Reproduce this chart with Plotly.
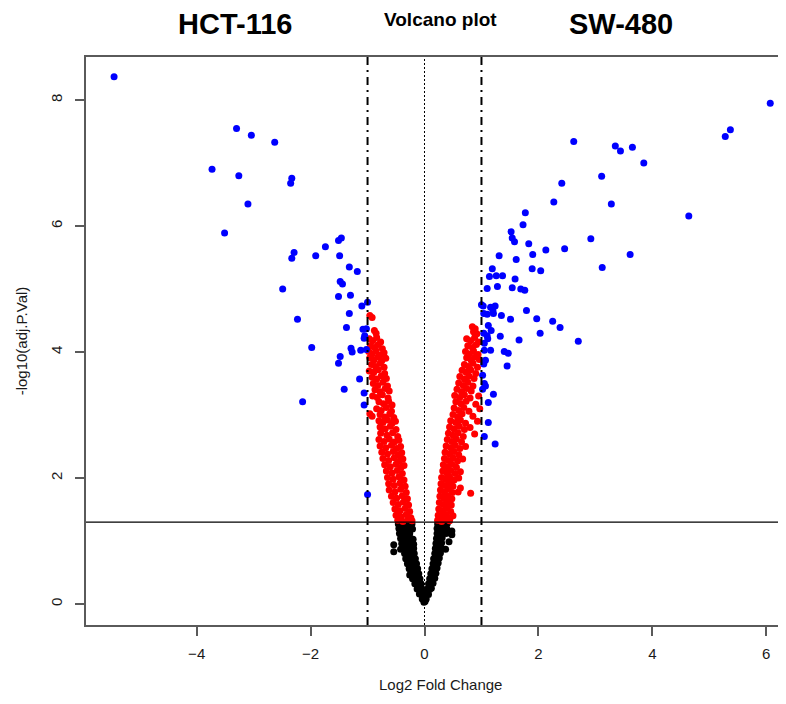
import plotly.graph_objects as go

# ---------------- data (log2FC, -log10 adj.P) ----------------
blue_left = [
    (-5.45, 8.37), (-3.30, 7.55), (-3.04, 7.44), (-2.63, 7.33), (-3.73, 6.90), (-3.26, 6.80),
    (-2.33, 6.76), (-2.35, 6.68), (-3.10, 6.35), (-3.51, 5.89), (-1.74, 5.67), (-1.51, 5.77),
    (-1.46, 5.81), (-2.29, 5.58), (-2.33, 5.49), (-1.91, 5.53), (-1.49, 5.53), (-1.32, 5.35),
    (-1.18, 5.28), (-1.48, 5.12), (-1.44, 5.08), (-2.49, 5.00), (-1.51, 4.88), (-1.30, 4.90),
    (-1.00, 4.79), (-1.10, 4.73), (-1.32, 4.61), (-2.23, 4.52), (-1.37, 4.39), (-1.08, 4.36),
    (-1.02, 4.37), (-1.05, 4.26), (-1.06, 4.22), (-1.98, 4.07), (-1.29, 4.06), (-1.27, 4.00),
    (-1.12, 4.03), (-1.02, 4.04), (-1.48, 3.93), (-1.51, 3.82), (-1.14, 3.57), (-1.41, 3.41),
    (-1.06, 3.35), (-2.14, 3.21), (-1.06, 3.16), (-1.00, 1.74),
]

blue_right = [
    (6.07, 7.95), (5.37, 7.53), (5.28, 7.42), (2.62, 7.34), (3.35, 7.27), (3.44, 7.19),
    (3.65, 7.25), (3.85, 7.00), (3.11, 6.79), (2.41, 6.68), (2.27, 6.38), (3.28, 6.35),
    (4.64, 6.16), (1.77, 6.21), (1.73, 6.02), (1.52, 5.91), (1.54, 5.81), (1.58, 5.75),
    (1.83, 5.72), (2.92, 5.80), (2.46, 5.64), (2.13, 5.62), (1.31, 5.53), (1.90, 5.55),
    (3.61, 5.55), (1.61, 5.47), (1.19, 5.32), (1.89, 5.32), (2.04, 5.29), (3.12, 5.34),
    (1.14, 5.20), (1.26, 5.21), (1.37, 5.21), (1.59, 5.16), (1.10, 5.01), (1.28, 5.04),
    (1.54, 5.02), (1.69, 5.00), (1.76, 4.98), (1.03, 4.73), (1.00, 4.75), (1.16, 4.71),
    (1.24, 4.73), (1.20, 4.66), (1.21, 4.61), (1.04, 4.61), (1.10, 4.60), (1.35, 4.58),
    (1.51, 4.52), (1.79, 4.66), (1.97, 4.53), (2.25, 4.49), (2.38, 4.39), (2.03, 4.30),
    (2.70, 4.17), (1.12, 4.42), (1.17, 4.34), (1.04, 4.30), (1.10, 4.26), (1.11, 4.21),
    (1.05, 4.14), (1.33, 4.25), (1.66, 4.19), (1.05, 4.03), (1.16, 4.03), (1.40, 4.01),
    (1.47, 3.98), (1.07, 3.87), (1.04, 3.81), (1.45, 3.78), (1.02, 3.63), (1.05, 3.50),
    (1.07, 3.46), (1.02, 3.41), (1.21, 3.33), (1.12, 3.20), (1.12, 2.88), (1.05, 2.66),
    (1.24, 2.54),
]

red_left = [
    (-0.96, 4.58), (-0.92, 4.55), (-0.88, 4.34), (-0.85, 4.30),
    (-0.97, 4.21), (-0.91, 4.18), (-0.84, 4.23), (-0.77, 4.16),
    (-0.95, 4.10), (-0.88, 4.07), (-0.81, 4.12), (-0.74, 4.05),
    (-0.98, 4.01), (-0.92, 3.97), (-0.85, 4.02), (-0.78, 3.95), (-0.71, 3.99),
    (-0.96, 3.91), (-0.89, 3.87), (-0.82, 3.92), (-0.75, 3.86), (-0.68, 3.90),
    (-0.93, 3.80), (-0.86, 3.77), (-0.78, 3.82), (-0.71, 3.76),
    (-0.97, 3.70), (-0.89, 3.68), (-0.81, 3.72), (-0.70, 3.66),
    (-0.92, 3.60), (-0.84, 3.57), (-0.76, 3.62), (-0.67, 3.58),
    (-0.90, 3.50), (-0.82, 3.47), (-0.73, 3.52), (-0.65, 3.46),
    (-0.87, 3.40), (-0.78, 3.37), (-0.69, 3.42), (-0.62, 3.38),
    (-0.91, 3.30), (-0.83, 3.28), (-0.74, 3.32), (-0.64, 3.27),
    (-0.80, 3.21), (-0.72, 3.18), (-0.63, 3.22), (-0.57, 3.16),
    (-0.84, 3.10), (-0.76, 3.07), (-0.67, 3.12), (-0.58, 3.06),
    (-0.96, 3.02), (-0.92, 2.98), (-0.78, 3.01), (-0.70, 2.97), (-0.61, 3.02), (-0.54, 2.96),
    (-0.80, 2.91), (-0.73, 2.88), (-0.65, 2.92), (-0.57, 2.87), (-0.51, 2.90),
    (-0.78, 2.81), (-0.69, 2.78), (-0.60, 2.82), (-0.50, 2.77),
    (-0.77, 2.71), (-0.66, 2.68), (-0.56, 2.72), (-0.47, 2.66),
    (-0.80, 2.61), (-0.71, 2.58), (-0.62, 2.62), (-0.53, 2.57), (-0.45, 2.60),
    (-0.78, 2.51), (-0.68, 2.48), (-0.58, 2.52), (-0.49, 2.47), (-0.42, 2.50),
    (-0.75, 2.41), (-0.65, 2.38), (-0.55, 2.42), (-0.46, 2.37), (-0.40, 2.40),
    (-0.73, 2.31), (-0.63, 2.28), (-0.53, 2.32), (-0.44, 2.27), (-0.38, 2.30),
    (-0.70, 2.21), (-0.60, 2.18), (-0.50, 2.22), (-0.41, 2.17), (-0.36, 2.20),
    (-0.67, 2.11), (-0.57, 2.08), (-0.48, 2.12), (-0.39, 2.07),
    (-0.65, 2.01), (-0.55, 1.98), (-0.45, 2.02), (-0.36, 1.97),
    (-0.63, 1.91), (-0.53, 1.88), (-0.43, 1.92), (-0.34, 1.87),
    (-0.62, 1.81), (-0.52, 1.78), (-0.42, 1.82), (-0.32, 1.77),
    (-0.58, 1.71), (-0.49, 1.68), (-0.39, 1.72), (-0.30, 1.67),
    (-0.55, 1.61), (-0.46, 1.58), (-0.37, 1.62), (-0.28, 1.57),
    (-0.52, 1.51), (-0.43, 1.48), (-0.34, 1.52), (-0.26, 1.47),
    (-0.50, 1.41), (-0.41, 1.38), (-0.32, 1.42), (-0.24, 1.37),
    (-0.47, 1.33), (-0.38, 1.31), (-0.29, 1.34), (-0.22, 1.32),
]

red_right = [
    (0.84, 4.40), (0.89, 4.37), (0.86, 4.32), (0.92, 4.29),
    (0.74, 4.21), (0.81, 4.18), (0.88, 4.23), (0.95, 4.16),
    (0.76, 4.10), (0.84, 4.07), (0.91, 4.12),
    (0.72, 4.01), (0.79, 3.97), (0.86, 4.02), (0.94, 3.96),
    (0.74, 3.91), (0.82, 3.87), (0.89, 3.92), (0.96, 3.88),
    (0.70, 3.80), (0.77, 3.77), (0.85, 3.82), (0.93, 3.76),
    (0.66, 3.71), (0.73, 3.68), (0.81, 3.72), (0.90, 3.66),
    (0.62, 3.61), (0.70, 3.57), (0.78, 3.62), (0.87, 3.58),
    (0.60, 3.51), (0.68, 3.47), (0.76, 3.52), (0.85, 3.46),
    (0.57, 3.41), (0.65, 3.37), (0.74, 3.42), (0.82, 3.38),
    (0.53, 3.31), (0.62, 3.28), (0.70, 3.32), (0.80, 3.27), (0.95, 3.30),
    (0.55, 3.21), (0.64, 3.18), (0.73, 3.22), (0.90, 3.17),
    (0.52, 3.11), (0.60, 3.07), (0.69, 3.12), (0.78, 3.06), (0.97, 3.10),
    (0.50, 3.01), (0.58, 2.97), (0.66, 3.02), (0.85, 2.98),
    (0.46, 2.91), (0.55, 2.88), (0.63, 2.92), (0.72, 2.87), (0.93, 2.90),
    (0.44, 2.81), (0.52, 2.78), (0.61, 2.82), (0.70, 2.77), (0.80, 2.80),
    (0.42, 2.71), (0.50, 2.68), (0.59, 2.72), (0.68, 2.66), (0.88, 2.70),
    (0.40, 2.61), (0.48, 2.58), (0.56, 2.62), (0.65, 2.57),
    (0.38, 2.51), (0.46, 2.48), (0.54, 2.52), (0.62, 2.47), (0.72, 2.50),
    (0.36, 2.41), (0.44, 2.38), (0.52, 2.42), (0.60, 2.37),
    (0.35, 2.31), (0.42, 2.28), (0.50, 2.32), (0.58, 2.27), (0.67, 2.30),
    (0.33, 2.21), (0.40, 2.18), (0.48, 2.22), (0.56, 2.17),
    (0.32, 2.11), (0.39, 2.08), (0.46, 2.12), (0.54, 2.07), (0.63, 2.10),
    (0.30, 2.01), (0.37, 1.98), (0.44, 2.02), (0.52, 1.97), (0.60, 2.00),
    (0.29, 1.91), (0.36, 1.88), (0.43, 1.92), (0.50, 1.87),
    (0.28, 1.81), (0.35, 1.78), (0.42, 1.82), (0.49, 1.77), (0.59, 1.78), (0.63, 1.84),
    (0.27, 1.71), (0.34, 1.68), (0.41, 1.72), (0.48, 1.67), (0.81, 1.76),
    (0.26, 1.61), (0.33, 1.58), (0.40, 1.62), (0.47, 1.57),
    (0.25, 1.51), (0.32, 1.48), (0.39, 1.52), (0.46, 1.47),
    (0.24, 1.41), (0.31, 1.38), (0.38, 1.42), (0.45, 1.37), (0.50, 1.40),
    (0.23, 1.33), (0.30, 1.31), (0.37, 1.34), (0.44, 1.32),
]

black_ns = [
    (-0.46, 1.27), (-0.40, 1.28), (-0.34, 1.26), (-0.28, 1.28), (-0.22, 1.27),
    (0.23, 1.27), (0.29, 1.28), (0.35, 1.26), (0.40, 1.28),
    (-0.45, 1.20), (-0.39, 1.19), (-0.33, 1.21), (-0.27, 1.20), (-0.21, 1.19),
    (0.22, 1.20), (0.28, 1.19), (0.34, 1.21), (0.39, 1.20),
    (-0.44, 1.12), (-0.38, 1.11), (-0.32, 1.13), (-0.26, 1.12),
    (0.22, 1.12), (0.27, 1.11), (0.33, 1.13), (0.38, 1.12),
    (-0.42, 1.04), (-0.36, 1.03), (-0.30, 1.05), (-0.24, 1.04), (-0.20, 1.03),
    (0.21, 1.04), (0.26, 1.03), (0.31, 1.05),
    (-0.40, 0.96), (-0.34, 0.95), (-0.28, 0.97), (-0.22, 0.96), (-0.19, 0.95),
    (0.20, 0.96), (0.25, 0.95), (0.30, 0.97),
    (-0.37, 0.88), (-0.31, 0.87), (-0.25, 0.89), (-0.19, 0.88),
    (0.19, 0.88), (0.24, 0.87), (0.29, 0.89),
    (-0.35, 0.80), (-0.29, 0.79), (-0.23, 0.81), (-0.18, 0.80),
    (0.18, 0.80), (0.23, 0.79), (0.28, 0.81),
    (-0.33, 0.72), (-0.27, 0.71), (-0.21, 0.73), (-0.16, 0.72),
    (0.16, 0.72), (0.21, 0.71), (0.26, 0.73),
    (-0.30, 0.64), (-0.25, 0.63), (-0.19, 0.65), (-0.14, 0.64),
    (0.15, 0.64), (0.20, 0.63), (0.24, 0.65),
    (-0.27, 0.56), (-0.22, 0.55), (-0.17, 0.57), (-0.12, 0.56),
    (0.13, 0.56), (0.18, 0.55), (0.22, 0.57),
    (-0.24, 0.48), (-0.19, 0.47), (-0.14, 0.49), (-0.10, 0.48),
    (0.11, 0.48), (0.16, 0.47), (0.20, 0.49),
    (-0.21, 0.40), (-0.16, 0.39), (-0.11, 0.41), (-0.08, 0.40),
    (0.09, 0.40), (0.14, 0.39), (0.18, 0.41),
    (-0.17, 0.32), (-0.13, 0.31), (-0.09, 0.33), (-0.06, 0.32),
    (0.07, 0.32), (0.11, 0.31), (0.15, 0.33),
    (-0.13, 0.24), (-0.09, 0.23), (-0.05, 0.25),
    (0.05, 0.24), (0.09, 0.23), (0.12, 0.25),
    (-0.09, 0.16), (-0.05, 0.15), (-0.02, 0.17), (0.03, 0.16), (0.07, 0.15),
    (-0.04, 0.08), (0.00, 0.09), (0.03, 0.08), (-0.01, 0.03), (0.01, 0.04),
    (-0.54, 0.94), (-0.54, 0.83), (-0.39, 0.95), (-0.42, 0.87), (-0.26, 0.46),
    (0.48, 1.16), (0.48, 1.10), (0.43, 0.99), (0.37, 0.87),
]

x_ticks = [-4, -2, 0, 2, 4, 6]
y_ticks = [0, 2, 4, 6, 8]
fc_cut = 1
p_cut = 1.301

# ---------------- figure ----------------
AX = "#5a5a5a"
FONT = "Liberation Sans, Arial, Helvetica, sans-serif"
# the page body has an 8px default margin; keep the figure inside the visible body area
FIG_W, FIG_H = 770, 688
M_L, M_T, M_B, M_R = 78, 49, 71, 0
PW = FIG_W - M_L - M_R  # plot width in px (692)

fig = go.Figure()


def add(points, color):
    fig.add_trace(go.Scatter(
        x=[p[0] for p in points], y=[p[1] for p in points],
        mode="markers",
        marker=dict(color=color, size=7, line=dict(width=0)),
        showlegend=False, hoverinfo="x+y",
    ))


add(black_ns, "#000000")
add(red_left + red_right, "#FF0000")
add(blue_left + blue_right, "#0000FF")

# reference lines
for xv, dash, w in [(-fc_cut, "8px,5px,2px,5px", 2), (fc_cut, "8px,5px,2px,5px", 2), (0, "2px,2px", 1)]:
    fig.add_shape(type="line", xref="x", yref="paper", x0=xv, x1=xv, y0=0, y1=1,
                  line=dict(color="black", width=w, dash=dash), layer="above")
fig.add_shape(type="line", xref="paper", yref="y", x0=0, x1=1, y0=p_cut, y1=p_cut,
              line=dict(color="black", width=1.2), layer="above")

fig.update_layout(
    width=FIG_W, height=FIG_H,
    margin=dict(l=M_L, r=M_R, t=M_T, b=M_B, autoexpand=False),
    paper_bgcolor="white", plot_bgcolor="white",
    font=dict(family=FONT, color="#1a1a1a", size=15),
    xaxis=dict(
        range=[-5.943, 6.206], tickvals=x_ticks, ticks="outside", ticklen=9,
        tickwidth=1.5, tickcolor=AX, showline=True, linecolor=AX, linewidth=1.5,
        mirror=True, showgrid=False, zeroline=False, automargin=False,
        ticklabelstandoff=5,
        tickfont=dict(size=15, color="#1a1a1a"),
    ),
    yaxis=dict(
        range=[-0.333, 8.683], tickvals=y_ticks, ticks="outside", ticklen=9,
        tickwidth=1.5, tickcolor=AX, showline=True, linecolor=AX, linewidth=1.5,
        showgrid=False, zeroline=False, tickangle=-90, automargin=False,
        ticklabelstandoff=7,
        tickfont=dict(size=15, color="#1a1a1a"),
        title=dict(text="-log10(adj.P.Val)", font=dict(size=15), standoff=17),
    ),
)

# x-axis title, centred on the full (uncropped) plot region as in the original
fig.add_annotation(text="Log2 Fold Change", xref="paper", yref="paper",
                   x=(441 - 86) / PW, y=0, yshift=-70, showarrow=False,
                   font=dict(size=15, color="#1a1a1a"), xanchor="center", yanchor="bottom")

fig.add_annotation(text="<b>HCT-116</b>", xref="paper", yref="paper",
                   x=(234.5 - 86) / PW, y=1, yshift=33, showarrow=False,
                   font=dict(size=29, color="black"), xanchor="center", yanchor="middle")
fig.add_annotation(text="<b>SW-480</b>", xref="paper", yref="paper",
                   x=(621 - 86) / PW, y=1, yshift=33, showarrow=False,
                   font=dict(size=29, color="black"), xanchor="center", yanchor="middle")
fig.add_annotation(text="<b>Volcano plot</b>", xref="paper", yref="paper",
                   x=(441 - 86) / PW, y=1, yshift=38, showarrow=False,
                   font=dict(size=19, color="black"), xanchor="center", yanchor="middle")

fig.write_html("out.html")
